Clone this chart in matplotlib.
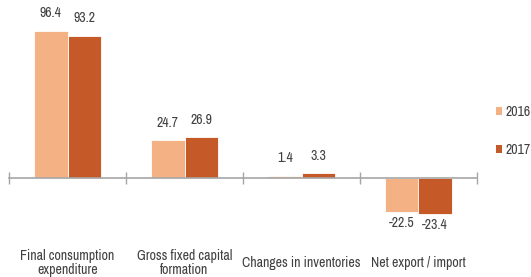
import matplotlib
matplotlib.use("Agg")
import matplotlib.pyplot as plt
from matplotlib import font_manager
import numpy as np
from matplotlib.patches import Patch

categories = ["Final consumption\nexpenditure", "Gross fixed capital\nformation",
              "Changes in inventories", "Net export / import"]
years = ["2016", "2017"]
values_2016 = [96.4, 24.7, 1.4, -22.5]
values_2017 = [93.2, 26.9, 3.3, -23.4]

light = "#F4B183"
dark = "#C55A28"
txt = "#404040"

# narrow font if there is one, else plain Liberation Sans a bit smaller
names = sorted({f.name for f in font_manager.fontManager.ttflist})
narrow = [n for n in names if "Narrow" in n or "Condensed" in n]
if narrow:
    plt.rcParams["font.family"] = [narrow[0], "DejaVu Sans"]
    fs = 10
else:
    plt.rcParams["font.family"] = ["Liberation Sans", "DejaVu Sans"]
    fs = 8.6

W, H = 531, 277
fig = plt.figure(figsize=(W / 100, H / 100), dpi=100)
ax = fig.add_axes([9 / W, 1 - 239 / H, 468 / W, 229 / H])

x = np.arange(len(categories))
bw = 0.285
b1 = ax.bar(x - bw / 2, values_2016, bw, color=light, edgecolor="white", linewidth=0.6)
b2 = ax.bar(x + bw / 2, values_2017, bw, color=dark, edgecolor="white", linewidth=0.6)

for bars, vals in [(b1, values_2016), (b2, values_2017)]:
    for rect, v in zip(bars, vals):
        cx = rect.get_x() + rect.get_width() / 2
        if v >= 0:
            ax.annotate(f"{v:.1f}", (cx, v), xytext=(0, 12.5), textcoords="offset points",
                        ha="center", va="center", fontsize=fs, color=txt)
        else:
            ax.annotate(f"{v:.1f}", (cx, v), xytext=(0, -8), textcoords="offset points",
                        ha="center", va="center", fontsize=fs, color=txt)

ax.set_xlim(-0.5, len(categories) - 0.5)
ax.set_ylim(-40, 110)
for s in ["top", "right", "left"]:
    ax.spines[s].set_visible(False)
ax.spines["bottom"].set_position(("data", 0))
ax.spines["bottom"].set_color("#A6A6A6")
ax.spines["bottom"].set_linewidth(1.2)
ax.set_yticks([])
ax.set_xticks(np.arange(len(categories) + 1) - 0.5)
ax.set_xticklabels([])
ax.tick_params(axis="x", direction="inout", length=8, width=1, color="#A6A6A6")

for i, c in enumerate(categories):
    xf = (9 + (i + 0.5) * 117) / W
    fig.text(xf, 1 - 263 / H, c, ha="center", va="center", fontsize=fs,
             color=txt, linespacing=1.05)

handles = [Patch(facecolor=light), Patch(facecolor=dark)]
fig.legend(handles, years, loc="center left", bbox_to_anchor=(496 / W, 1 - 131 / H),
           frameon=False, fontsize=fs, handlelength=0.45, handleheight=0.45,
           handletextpad=0.25, labelspacing=1.75, labelcolor=txt,
           borderpad=0, borderaxespad=0)

fig.savefig("out.png", dpi=100)
